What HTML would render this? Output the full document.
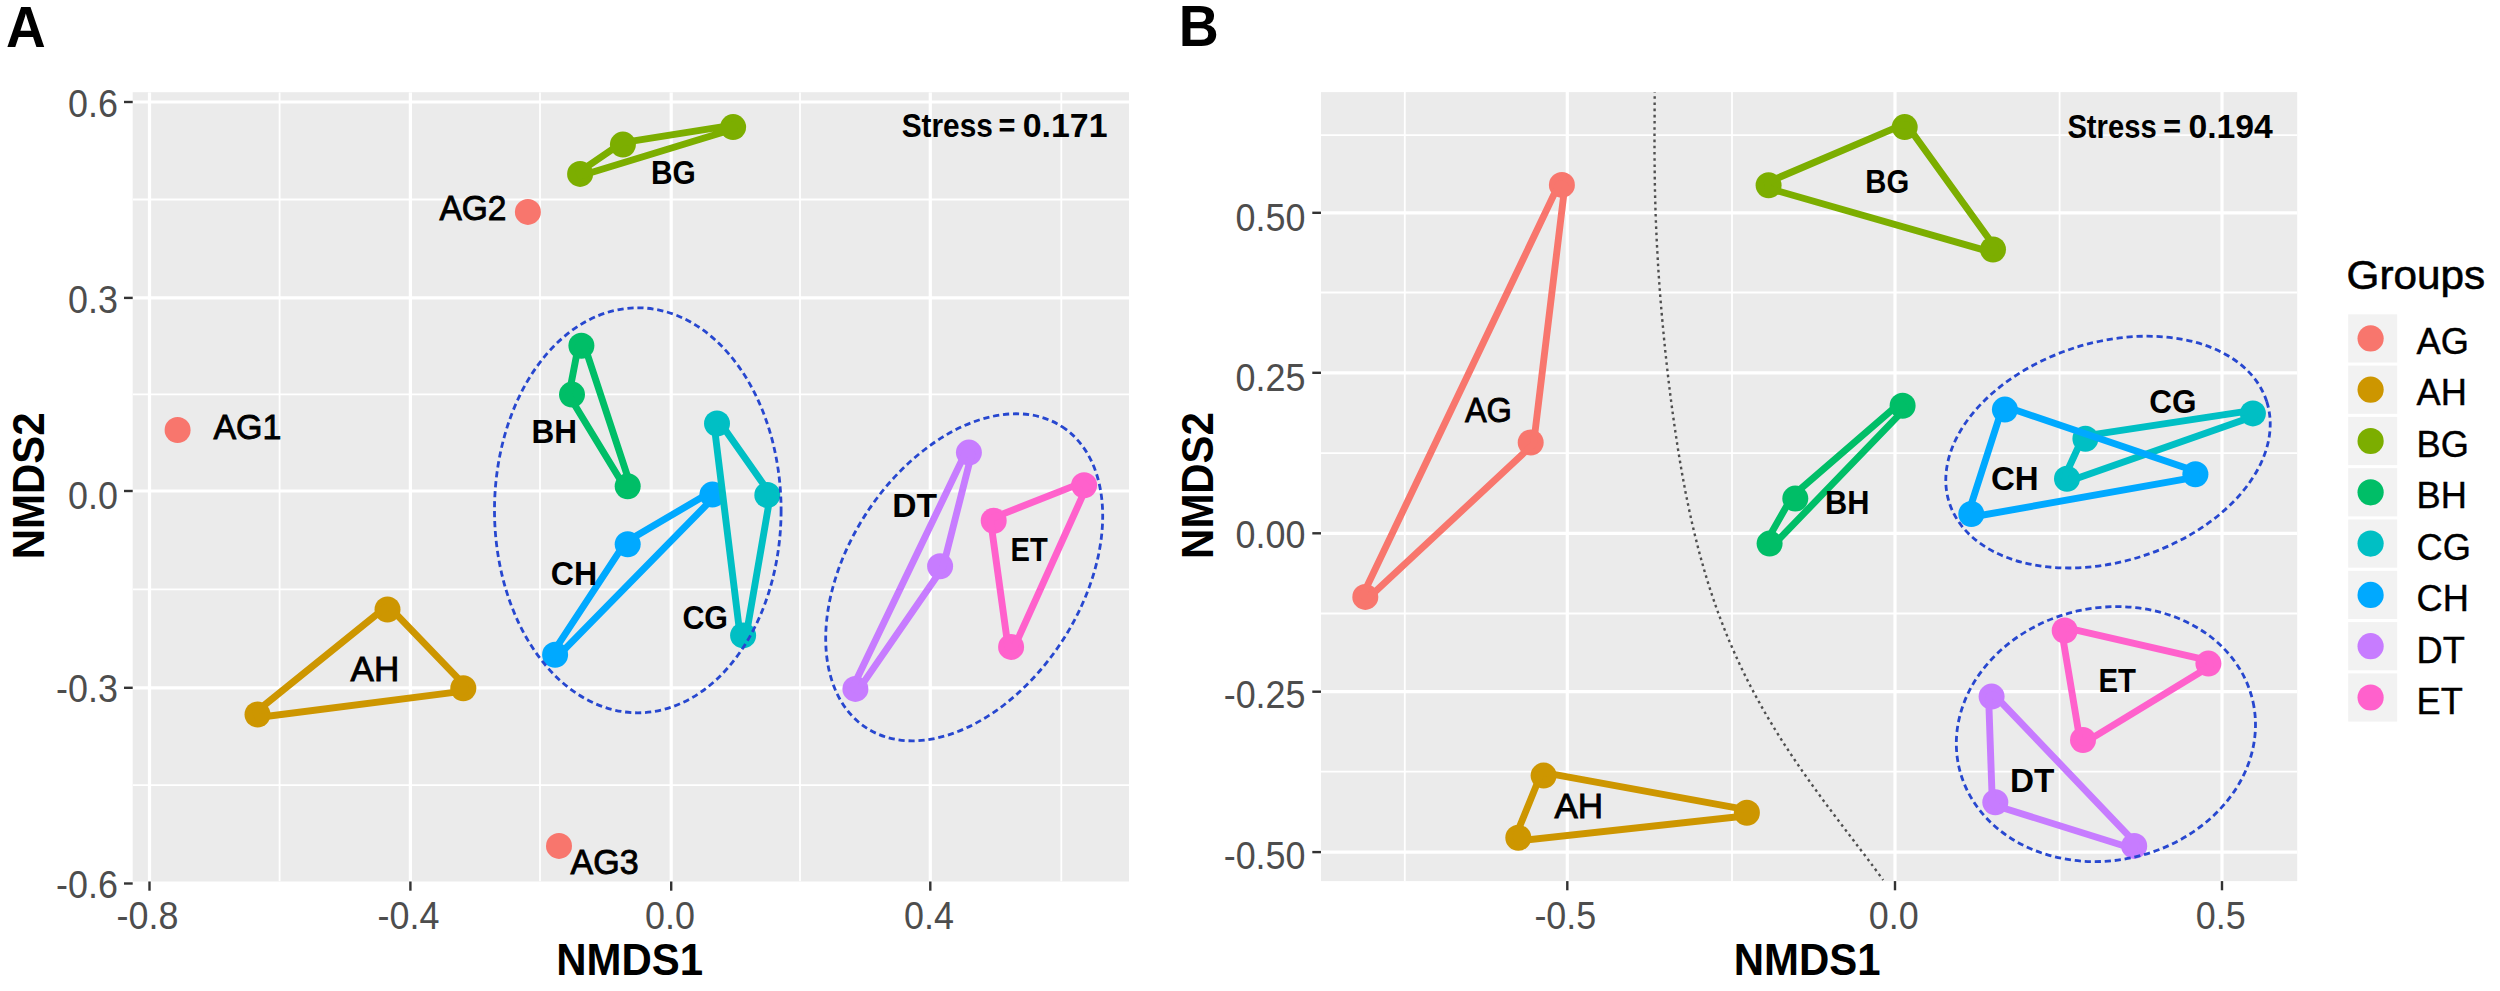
<!DOCTYPE html>
<html lang="en">
<head>
<meta charset="utf-8">
<title>NMDS ordination plots</title>
<style>
html,body{margin:0;padding:0;background:#fff;}
body{width:2500px;height:991px;overflow:hidden;}
svg{display:block;}
text{white-space:pre;}
</style>
</head>
<body>
<svg width="2500" height="991" viewBox="0 0 2500 991">
<rect width="2500" height="991" fill="#FFFFFF"/>
<clipPath id="clipA"><rect x="132.7" y="92.2" width="996.3" height="789.3"/></clipPath>
<rect x="132.7" y="92.2" width="996.3" height="789.3" fill="#EBEBEB"/>
<g clip-path="url(#clipA)" stroke="#FFFFFF" fill="none">
<line x1="279.6" y1="92.2" x2="279.6" y2="881.5" stroke-width="1.8"/>
<line x1="540.0" y1="92.2" x2="540.0" y2="881.5" stroke-width="1.8"/>
<line x1="800.0" y1="92.2" x2="800.0" y2="881.5" stroke-width="1.8"/>
<line x1="1061.3" y1="92.2" x2="1061.3" y2="881.5" stroke-width="1.8"/>
<line x1="132.7" y1="199.5" x2="1129.0" y2="199.5" stroke-width="1.8"/>
<line x1="132.7" y1="394.3" x2="1129.0" y2="394.3" stroke-width="1.8"/>
<line x1="132.7" y1="589.4" x2="1129.0" y2="589.4" stroke-width="1.8"/>
<line x1="132.7" y1="785.2" x2="1129.0" y2="785.2" stroke-width="1.8"/>
<line x1="149.5" y1="92.2" x2="149.5" y2="881.5" stroke-width="3.2"/>
<line x1="410.4" y1="92.2" x2="410.4" y2="881.5" stroke-width="3.2"/>
<line x1="671.2" y1="92.2" x2="671.2" y2="881.5" stroke-width="3.2"/>
<line x1="930.3" y1="92.2" x2="930.3" y2="881.5" stroke-width="3.2"/>
<line x1="132.7" y1="102.0" x2="1129.0" y2="102.0" stroke-width="3.2"/>
<line x1="132.7" y1="297.9" x2="1129.0" y2="297.9" stroke-width="3.2"/>
<line x1="132.7" y1="491.0" x2="1129.0" y2="491.0" stroke-width="3.2"/>
<line x1="132.7" y1="687.8" x2="1129.0" y2="687.8" stroke-width="3.2"/>
<line x1="132.7" y1="883.5" x2="1129.0" y2="883.5" stroke-width="3.2"/>
</g>
<g stroke="#333333" stroke-width="2.4">
<line x1="149.5" y1="881.5" x2="149.5" y2="890.7"/>
<line x1="410.4" y1="881.5" x2="410.4" y2="890.7"/>
<line x1="671.2" y1="881.5" x2="671.2" y2="890.7"/>
<line x1="930.3" y1="881.5" x2="930.3" y2="890.7"/>
<line x1="123.99999999999999" y1="102.0" x2="132.7" y2="102.0"/>
<line x1="123.99999999999999" y1="297.9" x2="132.7" y2="297.9"/>
<line x1="123.99999999999999" y1="491.0" x2="132.7" y2="491.0"/>
<line x1="123.99999999999999" y1="687.8" x2="132.7" y2="687.8"/>
<line x1="123.99999999999999" y1="883.5" x2="132.7" y2="883.5"/>
</g>
<g font-family="'Liberation Sans', Arial, sans-serif" font-size="38.3" fill="#4D4D4D">
<text x="68.1" y="116.7" textLength="49.9" lengthAdjust="spacingAndGlyphs">0.6</text>
<text x="68.1" y="312.7" textLength="49.9" lengthAdjust="spacingAndGlyphs">0.3</text>
<text x="68.1" y="508.5" textLength="49.9" lengthAdjust="spacingAndGlyphs">0.0</text>
<text x="56.1" y="702.2" textLength="61.9" lengthAdjust="spacingAndGlyphs">-0.3</text>
<text x="56.1" y="898.3" textLength="61.9" lengthAdjust="spacingAndGlyphs">-0.6</text>
</g>
<g font-family="'Liberation Sans', Arial, sans-serif" font-size="38.3" fill="#4D4D4D">
<text x="116.6" y="928.8" textLength="61.9" lengthAdjust="spacingAndGlyphs">-0.8</text>
<text x="377.5" y="928.8" textLength="61.9" lengthAdjust="spacingAndGlyphs">-0.4</text>
<text x="645.0" y="928.8" textLength="49.9" lengthAdjust="spacingAndGlyphs">0.0</text>
<text x="904.1" y="928.8" textLength="49.9" lengthAdjust="spacingAndGlyphs">0.4</text>
</g>
<g clip-path="url(#clipA)">
<circle cx="177.6" cy="430.0" r="13.0" fill="#F8766D"/>
<circle cx="527.9" cy="211.9" r="13.0" fill="#F8766D"/>
<circle cx="559.0" cy="845.9" r="13.0" fill="#F8766D"/>
<circle cx="387.5" cy="609.5" r="13.0" fill="#CD9600"/>
<circle cx="463.3" cy="688.2" r="13.0" fill="#CD9600"/>
<circle cx="257.5" cy="714.5" r="13.0" fill="#CD9600"/>
<circle cx="580.1" cy="173.9" r="13.0" fill="#7CAE00"/>
<circle cx="622.9" cy="144.6" r="13.0" fill="#7CAE00"/>
<circle cx="733.1" cy="127.1" r="13.0" fill="#7CAE00"/>
<circle cx="581.4" cy="345.7" r="13.0" fill="#00BE67"/>
<circle cx="572.0" cy="394.6" r="13.0" fill="#00BE67"/>
<circle cx="627.7" cy="486.2" r="13.0" fill="#00BE67"/>
<circle cx="717.0" cy="423.5" r="13.0" fill="#00BFC4"/>
<circle cx="767.3" cy="495.0" r="13.0" fill="#00BFC4"/>
<circle cx="743.1" cy="635.4" r="13.0" fill="#00BFC4"/>
<circle cx="712.4" cy="494.6" r="13.0" fill="#00A9FF"/>
<circle cx="627.7" cy="544.3" r="13.0" fill="#00A9FF"/>
<circle cx="555.1" cy="654.7" r="13.0" fill="#00A9FF"/>
<circle cx="968.9" cy="452.6" r="13.0" fill="#C77CFF"/>
<circle cx="940.1" cy="566.3" r="13.0" fill="#C77CFF"/>
<circle cx="855.4" cy="688.9" r="13.0" fill="#C77CFF"/>
<circle cx="1084.1" cy="485.2" r="13.0" fill="#FF61CC"/>
<circle cx="993.7" cy="520.8" r="13.0" fill="#FF61CC"/>
<circle cx="1011.1" cy="646.9" r="13.0" fill="#FF61CC"/>
<polygon points="389.7,607.4 465.5,686.1 463.7,691.2 257.9,717.5 255.6,712.2 385.6,607.2" fill="none" stroke="#CD9600" stroke-width="6.9" stroke-linejoin="round"/>
<polygon points="579.0,172.2 621.8,142.9 622.6,142.6 732.8,125.1 733.7,129.0 580.7,175.8" fill="none" stroke="#7CAE00" stroke-width="6.9" stroke-linejoin="round"/>
<polygon points="578.5,345.1 569.1,394.0 569.4,396.2 625.1,487.8 630.5,485.3 584.2,344.8" fill="none" stroke="#00BE67" stroke-width="6.9" stroke-linejoin="round"/>
<polygon points="719.5,421.8 769.8,493.3 770.3,495.5 746.1,635.9 740.1,635.8 714.0,423.9" fill="none" stroke="#00BFC4" stroke-width="6.9" stroke-linejoin="round"/>
<polygon points="710.9,492.0 626.2,541.7 625.2,542.7 552.6,653.1 557.2,656.8 714.5,496.7" fill="none" stroke="#00A9FF" stroke-width="6.9" stroke-linejoin="round"/>
<polygon points="971.8,453.3 943.0,567.0 942.6,568.0 857.9,690.6 852.7,687.6 966.2,451.3" fill="none" stroke="#C77CFF" stroke-width="6.9" stroke-linejoin="round"/>
<polygon points="1083.0,482.4 992.6,518.0 990.7,521.2 1008.1,647.3 1013.8,648.1 1086.8,486.4" fill="none" stroke="#FF61CC" stroke-width="6.9" stroke-linejoin="round"/>
</g>
<ellipse cx="637.8" cy="510.3" rx="143.3" ry="202.5" transform="rotate(0 637.8 510.3)" fill="none" stroke="#2747CF" stroke-width="2.8" stroke-dasharray="6.2 3.8"/>
<ellipse cx="964.2" cy="577.3" rx="179.6" ry="116.9" transform="rotate(-57 964.2 577.3)" fill="none" stroke="#2747CF" stroke-width="2.8" stroke-dasharray="6.2 3.8"/>
<text x="213.4" y="438.6" font-family="'Liberation Sans', Arial, sans-serif" font-size="35.4" font-weight="normal" fill="#000" textLength="68.0" lengthAdjust="spacingAndGlyphs" stroke="#000" stroke-width="0.9">AG1</text>
<text x="439.4" y="220.3" font-family="'Liberation Sans', Arial, sans-serif" font-size="35.4" font-weight="normal" fill="#000" textLength="67.0" lengthAdjust="spacingAndGlyphs" stroke="#000" stroke-width="0.9">AG2</text>
<text x="570.6" y="874.3" font-family="'Liberation Sans', Arial, sans-serif" font-size="35.4" font-weight="normal" fill="#000" textLength="68.0" lengthAdjust="spacingAndGlyphs" stroke="#000" stroke-width="0.9">AG3</text>
<text x="350.6" y="680.6" font-family="'Liberation Sans', Arial, sans-serif" font-size="35.4" font-weight="normal" fill="#000" textLength="48.7" lengthAdjust="spacingAndGlyphs" stroke="#000" stroke-width="0.9">AH</text>
<text x="650.9" y="183.6" font-family="'Liberation Sans', Arial, sans-serif" font-size="34.0" font-weight="bold" fill="#000" textLength="44.8" lengthAdjust="spacingAndGlyphs">BG</text>
<text x="531.5" y="442.5" font-family="'Liberation Sans', Arial, sans-serif" font-size="34.0" font-weight="bold" fill="#000" textLength="45.5" lengthAdjust="spacingAndGlyphs">BH</text>
<text x="550.8" y="584.5" font-family="'Liberation Sans', Arial, sans-serif" font-size="34.0" font-weight="bold" fill="#000" textLength="46.4" lengthAdjust="spacingAndGlyphs">CH</text>
<text x="682.4" y="629.0" font-family="'Liberation Sans', Arial, sans-serif" font-size="34.0" font-weight="bold" fill="#000" textLength="45.6" lengthAdjust="spacingAndGlyphs">CG</text>
<text x="892.3" y="516.7" font-family="'Liberation Sans', Arial, sans-serif" font-size="34.0" font-weight="bold" fill="#000" textLength="44.8" lengthAdjust="spacingAndGlyphs">DT</text>
<text x="1010.5" y="561.0" font-family="'Liberation Sans', Arial, sans-serif" font-size="34.0" font-weight="bold" fill="#000" textLength="37.2" lengthAdjust="spacingAndGlyphs">ET</text>
<text y="137.3" font-family="'Liberation Sans', Arial, sans-serif" font-size="32.9" font-weight="bold" fill="#000"><tspan x="901.7" textLength="91.1" lengthAdjust="spacingAndGlyphs">Stress</tspan> <tspan x="998.5" textLength="16.9" lengthAdjust="spacingAndGlyphs">=</tspan> <tspan x="1022.7" textLength="84.8" lengthAdjust="spacingAndGlyphs">0.171</tspan></text>
<text x="556.2" y="975.3" font-family="'Liberation Sans', Arial, sans-serif" font-size="44.8" font-weight="bold" fill="#000" textLength="146.8" lengthAdjust="spacingAndGlyphs">NMDS1</text>
<text transform="translate(44.4 485.8) rotate(-90)" x="-73.4" y="0" font-family="'Liberation Sans', Arial, sans-serif" font-size="44.8" font-weight="bold" fill="#000" textLength="146.8" lengthAdjust="spacingAndGlyphs">NMDS2</text>
<text x="6.0" y="46.6" font-family="'Liberation Sans', Arial, sans-serif" font-size="57" font-weight="bold" fill="#000" textLength="39.7" lengthAdjust="spacingAndGlyphs">A</text>
<clipPath id="clipB"><rect x="1321.0" y="92.1" width="976.2" height="789.0"/></clipPath>
<rect x="1321.0" y="92.1" width="976.2" height="789.0" fill="#EBEBEB"/>
<g clip-path="url(#clipB)" stroke="#FFFFFF" fill="none">
<line x1="1404.8" y1="92.1" x2="1404.8" y2="881.1" stroke-width="1.8"/>
<line x1="1732.0" y1="92.1" x2="1732.0" y2="881.1" stroke-width="1.8"/>
<line x1="2059.6" y1="92.1" x2="2059.6" y2="881.1" stroke-width="1.8"/>
<line x1="1321.0" y1="135.1" x2="2297.2" y2="135.1" stroke-width="1.8"/>
<line x1="1321.0" y1="292.5" x2="2297.2" y2="292.5" stroke-width="1.8"/>
<line x1="1321.0" y1="453.2" x2="2297.2" y2="453.2" stroke-width="1.8"/>
<line x1="1321.0" y1="613.5" x2="2297.2" y2="613.5" stroke-width="1.8"/>
<line x1="1321.0" y1="771.7" x2="2297.2" y2="771.7" stroke-width="1.8"/>
<line x1="1567.3" y1="92.1" x2="1567.3" y2="881.1" stroke-width="3.2"/>
<line x1="1895.0" y1="92.1" x2="1895.0" y2="881.1" stroke-width="3.2"/>
<line x1="2222.0" y1="92.1" x2="2222.0" y2="881.1" stroke-width="3.2"/>
<line x1="1321.0" y1="212.8" x2="2297.2" y2="212.8" stroke-width="3.2"/>
<line x1="1321.0" y1="372.8" x2="2297.2" y2="372.8" stroke-width="3.2"/>
<line x1="1321.0" y1="533.3" x2="2297.2" y2="533.3" stroke-width="3.2"/>
<line x1="1321.0" y1="691.7" x2="2297.2" y2="691.7" stroke-width="3.2"/>
<line x1="1321.0" y1="852.1" x2="2297.2" y2="852.1" stroke-width="3.2"/>
</g>
<g stroke="#333333" stroke-width="2.4">
<line x1="1567.3" y1="881.1" x2="1567.3" y2="890.3000000000001"/>
<line x1="1895.0" y1="881.1" x2="1895.0" y2="890.3000000000001"/>
<line x1="2222.0" y1="881.1" x2="2222.0" y2="890.3000000000001"/>
<line x1="1312.3" y1="212.8" x2="1321.0" y2="212.8"/>
<line x1="1312.3" y1="372.8" x2="1321.0" y2="372.8"/>
<line x1="1312.3" y1="533.3" x2="1321.0" y2="533.3"/>
<line x1="1312.3" y1="691.7" x2="1321.0" y2="691.7"/>
<line x1="1312.3" y1="852.1" x2="1321.0" y2="852.1"/>
</g>
<g font-family="'Liberation Sans', Arial, sans-serif" font-size="38.3" fill="#4D4D4D">
<text x="1235.6" y="230.6" textLength="69.9" lengthAdjust="spacingAndGlyphs">0.50</text>
<text x="1235.6" y="390.5" textLength="69.9" lengthAdjust="spacingAndGlyphs">0.25</text>
<text x="1235.6" y="548.1" textLength="69.9" lengthAdjust="spacingAndGlyphs">0.00</text>
<text x="1223.7" y="708.1" textLength="81.8" lengthAdjust="spacingAndGlyphs">-0.25</text>
<text x="1223.7" y="868.9" textLength="81.8" lengthAdjust="spacingAndGlyphs">-0.50</text>
</g>
<g font-family="'Liberation Sans', Arial, sans-serif" font-size="38.3" fill="#4D4D4D">
<text x="1534.4" y="929.0" textLength="61.9" lengthAdjust="spacingAndGlyphs">-0.5</text>
<text x="1868.8" y="929.0" textLength="49.9" lengthAdjust="spacingAndGlyphs">0.0</text>
<text x="2195.8" y="929.0" textLength="49.9" lengthAdjust="spacingAndGlyphs">0.5</text>
</g>
<g clip-path="url(#clipB)">
<circle cx="1561.9" cy="184.9" r="13.0" fill="#F8766D"/>
<circle cx="1530.7" cy="442.5" r="13.0" fill="#F8766D"/>
<circle cx="1365.3" cy="596.9" r="13.0" fill="#F8766D"/>
<circle cx="1543.6" cy="775.6" r="13.0" fill="#CD9600"/>
<circle cx="1746.9" cy="812.8" r="13.0" fill="#CD9600"/>
<circle cx="1518.3" cy="837.8" r="13.0" fill="#CD9600"/>
<circle cx="1904.7" cy="127.1" r="13.0" fill="#7CAE00"/>
<circle cx="1993.0" cy="249.5" r="13.0" fill="#7CAE00"/>
<circle cx="1768.6" cy="185.2" r="13.0" fill="#7CAE00"/>
<circle cx="1902.6" cy="405.8" r="13.0" fill="#00BE67"/>
<circle cx="1795.3" cy="498.6" r="13.0" fill="#00BE67"/>
<circle cx="1769.6" cy="543.6" r="13.0" fill="#00BE67"/>
<circle cx="2085.4" cy="438.8" r="13.0" fill="#00BFC4"/>
<circle cx="2252.9" cy="413.4" r="13.0" fill="#00BFC4"/>
<circle cx="2067.0" cy="478.8" r="13.0" fill="#00BFC4"/>
<circle cx="2004.9" cy="409.6" r="13.0" fill="#00A9FF"/>
<circle cx="2195.4" cy="474.2" r="13.0" fill="#00A9FF"/>
<circle cx="1971.3" cy="514.0" r="13.0" fill="#00A9FF"/>
<circle cx="1991.6" cy="696.6" r="13.0" fill="#C77CFF"/>
<circle cx="1995.3" cy="802.3" r="13.0" fill="#C77CFF"/>
<circle cx="2134.2" cy="845.9" r="13.0" fill="#C77CFF"/>
<circle cx="2064.7" cy="630.5" r="13.0" fill="#FF61CC"/>
<circle cx="2208.4" cy="663.6" r="13.0" fill="#FF61CC"/>
<circle cx="2083.0" cy="740.0" r="13.0" fill="#FF61CC"/>
<polygon points="1564.9,185.3 1533.7,442.9 1532.7,444.7 1367.3,599.1 1362.6,595.6 1559.2,183.6" fill="none" stroke="#F8766D" stroke-width="6.9" stroke-linejoin="round"/>
<polygon points="1544.1,772.6 1747.4,809.8 1747.2,815.8 1518.6,840.8 1515.5,836.7 1540.8,774.5" fill="none" stroke="#CD9600" stroke-width="6.9" stroke-linejoin="round"/>
<polygon points="1907.1,125.3 1995.4,247.7 1992.2,252.4 1767.8,188.1 1767.4,182.4 1903.5,124.3" fill="none" stroke="#7CAE00" stroke-width="6.9" stroke-linejoin="round"/>
<polygon points="1900.1,402.9 1792.8,495.7 1792.0,496.7 1766.3,541.7 1772.3,546.2 1905.3,408.4" fill="none" stroke="#00BE67" stroke-width="6.9" stroke-linejoin="round"/>
<polygon points="2085.0,435.8 2252.5,410.4 2253.9,416.2 2068.0,481.6 2064.3,477.5 2082.7,437.5" fill="none" stroke="#00BFC4" stroke-width="6.9" stroke-linejoin="round"/>
<polygon points="2005.9,406.8 2196.4,471.4 2195.9,477.2 1971.8,517.0 1968.4,513.1 2002.0,408.7" fill="none" stroke="#00A9FF" stroke-width="6.9" stroke-linejoin="round"/>
<polygon points="1988.6,696.7 1992.3,802.4 1994.4,805.2 2133.3,848.8 2136.4,843.8 1993.8,694.5" fill="none" stroke="#C77CFF" stroke-width="6.9" stroke-linejoin="round"/>
<polygon points="2065.4,627.6 2209.1,660.7 2210.0,666.2 2084.6,742.6 2080.0,740.5 2061.7,631.0" fill="none" stroke="#FF61CC" stroke-width="6.9" stroke-linejoin="round"/>
</g>
<path d="M1654.7,90.0 C1654.7,92.7 1654.7,100.7 1654.6,106.1 C1654.6,111.5 1654.6,116.9 1654.6,122.2 C1654.5,127.6 1654.5,133.0 1654.5,138.4 C1654.5,143.7 1654.5,149.1 1654.5,154.5 C1654.6,159.9 1654.6,165.2 1654.7,170.6 C1654.7,176.0 1654.8,181.4 1654.9,186.7 C1655.0,192.1 1655.1,197.5 1655.3,202.9 C1655.4,208.2 1655.6,213.6 1655.8,219.0 C1656.0,224.4 1656.2,229.7 1656.5,235.1 C1656.7,240.5 1657.0,245.9 1657.3,251.2 C1657.6,256.6 1657.9,262.0 1658.2,267.3 C1658.6,272.7 1658.9,278.1 1659.3,283.5 C1659.7,288.8 1660.1,294.2 1660.5,299.6 C1661.0,305.0 1661.4,310.3 1661.9,315.7 C1662.4,321.1 1662.9,326.5 1663.4,331.8 C1663.9,337.2 1664.4,342.6 1665.0,348.0 C1665.5,353.3 1666.1,358.7 1666.7,364.1 C1667.3,369.5 1667.9,374.8 1668.5,380.2 C1669.2,385.6 1669.8,391.0 1670.5,396.3 C1671.2,401.7 1671.9,407.1 1672.6,412.4 C1673.4,417.8 1674.1,423.2 1674.9,428.6 C1675.7,433.9 1676.5,439.3 1677.3,444.7 C1678.1,450.1 1679.0,455.4 1679.9,460.8 C1680.8,466.2 1681.7,471.6 1682.7,476.9 C1683.7,482.3 1684.7,487.7 1685.7,493.1 C1686.8,498.4 1687.9,503.8 1689.0,509.2 C1690.2,514.6 1691.3,519.9 1692.6,525.3 C1693.8,530.7 1695.1,536.1 1696.5,541.4 C1697.8,546.8 1699.2,552.2 1700.7,557.6 C1702.2,562.9 1703.7,568.3 1705.3,573.7 C1706.9,579.0 1708.5,584.4 1710.3,589.8 C1712.0,595.2 1713.9,600.5 1715.7,605.9 C1717.6,611.3 1719.6,616.7 1721.7,622.0 C1723.7,627.4 1725.9,632.8 1728.1,638.2 C1730.4,643.5 1732.7,648.9 1735.1,654.3 C1737.5,659.7 1740.0,665.0 1742.6,670.4 C1745.2,675.8 1747.9,681.2 1750.7,686.5 C1753.5,691.9 1756.4,697.3 1759.4,702.7 C1762.3,708.0 1765.4,713.4 1768.6,718.8 C1771.8,724.1 1775.0,729.5 1778.4,734.9 C1781.8,740.3 1785.2,745.6 1788.7,751.0 C1792.3,756.4 1795.9,761.8 1799.6,767.1 C1803.3,772.5 1807.1,777.9 1810.9,783.3 C1814.7,788.6 1818.7,794.0 1822.6,799.4 C1826.6,804.8 1830.6,810.1 1834.6,815.5 C1838.7,820.9 1842.7,826.3 1846.8,831.6 C1850.9,837.0 1855.0,842.4 1859.1,847.8 C1863.2,853.1 1867.3,858.5 1871.3,863.9 C1875.3,869.3 1881.2,877.3 1883.2,880.0" fill="none" stroke="#4F4F4F" stroke-width="2.4" stroke-dasharray="2.6 3.6" clip-path="url(#clipB)"/>
<ellipse cx="2108.0" cy="452.1" rx="166.6" ry="109.5" transform="rotate(-17.6 2108.0 452.1)" fill="none" stroke="#2747CF" stroke-width="2.8" stroke-dasharray="6.2 3.8"/>
<ellipse cx="2105.9" cy="734.1" rx="150.6" ry="126.3" transform="rotate(-12.3 2105.9 734.1)" fill="none" stroke="#2747CF" stroke-width="2.8" stroke-dasharray="6.2 3.8"/>
<text x="1464.9" y="421.6" font-family="'Liberation Sans', Arial, sans-serif" font-size="35.4" font-weight="normal" fill="#000" textLength="47.0" lengthAdjust="spacingAndGlyphs" stroke="#000" stroke-width="0.9">AG</text>
<text x="1554.4" y="817.8" font-family="'Liberation Sans', Arial, sans-serif" font-size="35.4" font-weight="normal" fill="#000" textLength="48.7" lengthAdjust="spacingAndGlyphs" stroke="#000" stroke-width="0.9">AH</text>
<text x="1865.3" y="192.7" font-family="'Liberation Sans', Arial, sans-serif" font-size="34.0" font-weight="bold" fill="#000" textLength="43.9" lengthAdjust="spacingAndGlyphs">BG</text>
<text x="1825.1" y="513.5" font-family="'Liberation Sans', Arial, sans-serif" font-size="34.0" font-weight="bold" fill="#000" textLength="44.4" lengthAdjust="spacingAndGlyphs">BH</text>
<text x="2149.2" y="412.8" font-family="'Liberation Sans', Arial, sans-serif" font-size="34.0" font-weight="bold" fill="#000" textLength="47.2" lengthAdjust="spacingAndGlyphs">CG</text>
<text x="1991.0" y="489.5" font-family="'Liberation Sans', Arial, sans-serif" font-size="34.0" font-weight="bold" fill="#000" textLength="47.7" lengthAdjust="spacingAndGlyphs">CH</text>
<text x="2010.0" y="791.6" font-family="'Liberation Sans', Arial, sans-serif" font-size="34.0" font-weight="bold" fill="#000" textLength="44.4" lengthAdjust="spacingAndGlyphs">DT</text>
<text x="2098.5" y="691.9" font-family="'Liberation Sans', Arial, sans-serif" font-size="34.0" font-weight="bold" fill="#000" textLength="37.5" lengthAdjust="spacingAndGlyphs">ET</text>
<text y="138.4" font-family="'Liberation Sans', Arial, sans-serif" font-size="32.9" font-weight="bold" fill="#000"><tspan x="2067.4" textLength="89.3" lengthAdjust="spacingAndGlyphs">Stress</tspan> <tspan x="2163.2" textLength="17.8" lengthAdjust="spacingAndGlyphs">=</tspan> <tspan x="2188.4" textLength="84.4" lengthAdjust="spacingAndGlyphs">0.194</tspan></text>
<text x="1733.8" y="975.3" font-family="'Liberation Sans', Arial, sans-serif" font-size="44.8" font-weight="bold" fill="#000" textLength="146.8" lengthAdjust="spacingAndGlyphs">NMDS1</text>
<text transform="translate(1212.6 485.5) rotate(-90)" x="-73.4" y="0" font-family="'Liberation Sans', Arial, sans-serif" font-size="44.8" font-weight="bold" fill="#000" textLength="146.8" lengthAdjust="spacingAndGlyphs">NMDS2</text>
<text x="1178.7" y="46.2" font-family="'Liberation Sans', Arial, sans-serif" font-size="57" font-weight="bold" fill="#000" textLength="40.0" lengthAdjust="spacingAndGlyphs">B</text>
<text x="2346.6" y="288.5" font-family="'Liberation Sans', Arial, sans-serif" font-size="41" fill="#000" stroke="#000" stroke-width="0.6" textLength="138.6" lengthAdjust="spacingAndGlyphs">Groups</text>
<rect x="2348.2" y="314.3" width="49.0" height="48.2" fill="#F2F2F2"/>
<circle cx="2370.6" cy="338.4" r="13.1" fill="#F8766D"/>
<text x="2416.6" y="354.0" font-family="'Liberation Sans', Arial, sans-serif" font-size="37.2" fill="#000" stroke="#000" stroke-width="0.4" textLength="52.3" lengthAdjust="spacingAndGlyphs">AG</text>
<rect x="2348.2" y="365.6" width="49.0" height="48.2" fill="#F2F2F2"/>
<circle cx="2370.6" cy="389.7" r="13.1" fill="#CD9600"/>
<text x="2416.6" y="405.4" font-family="'Liberation Sans', Arial, sans-serif" font-size="37.2" fill="#000" stroke="#000" stroke-width="0.4" textLength="50.3" lengthAdjust="spacingAndGlyphs">AH</text>
<rect x="2348.2" y="416.9" width="49.0" height="48.2" fill="#F2F2F2"/>
<circle cx="2370.6" cy="441.0" r="13.1" fill="#7CAE00"/>
<text x="2416.6" y="456.9" font-family="'Liberation Sans', Arial, sans-serif" font-size="37.2" fill="#000" stroke="#000" stroke-width="0.4" textLength="52.3" lengthAdjust="spacingAndGlyphs">BG</text>
<rect x="2348.2" y="468.2" width="49.0" height="48.2" fill="#F2F2F2"/>
<circle cx="2370.6" cy="492.3" r="13.1" fill="#00BE67"/>
<text x="2416.6" y="508.4" font-family="'Liberation Sans', Arial, sans-serif" font-size="37.2" fill="#000" stroke="#000" stroke-width="0.4" textLength="50.3" lengthAdjust="spacingAndGlyphs">BH</text>
<rect x="2348.2" y="519.5" width="49.0" height="48.2" fill="#F2F2F2"/>
<circle cx="2370.6" cy="543.6" r="13.1" fill="#00BFC4"/>
<text x="2416.6" y="559.8" font-family="'Liberation Sans', Arial, sans-serif" font-size="37.2" fill="#000" stroke="#000" stroke-width="0.4" textLength="54.3" lengthAdjust="spacingAndGlyphs">CG</text>
<rect x="2348.2" y="570.8" width="49.0" height="48.2" fill="#F2F2F2"/>
<circle cx="2370.6" cy="594.9" r="13.1" fill="#00A9FF"/>
<text x="2416.6" y="611.2" font-family="'Liberation Sans', Arial, sans-serif" font-size="37.2" fill="#000" stroke="#000" stroke-width="0.4" textLength="52.3" lengthAdjust="spacingAndGlyphs">CH</text>
<rect x="2348.2" y="622.1" width="49.0" height="48.2" fill="#F2F2F2"/>
<circle cx="2370.6" cy="646.2" r="13.1" fill="#C77CFF"/>
<text x="2416.6" y="662.7" font-family="'Liberation Sans', Arial, sans-serif" font-size="37.2" fill="#000" stroke="#000" stroke-width="0.4" textLength="48.3" lengthAdjust="spacingAndGlyphs">DT</text>
<rect x="2348.2" y="673.4" width="49.0" height="48.2" fill="#F2F2F2"/>
<circle cx="2370.6" cy="697.5" r="13.1" fill="#FF61CC"/>
<text x="2416.6" y="714.2" font-family="'Liberation Sans', Arial, sans-serif" font-size="37.2" fill="#000" stroke="#000" stroke-width="0.4" textLength="46.3" lengthAdjust="spacingAndGlyphs">ET</text>
</svg>
</body>
</html>
